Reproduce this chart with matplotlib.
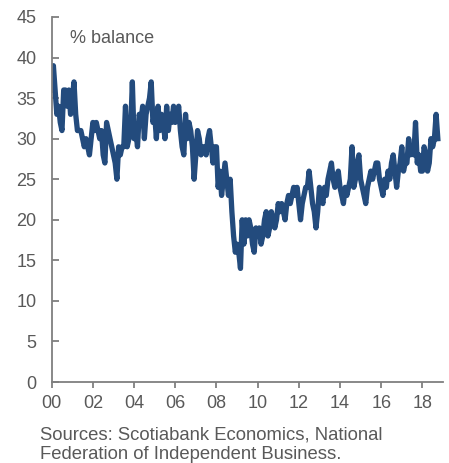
import matplotlib.pyplot as plt
import numpy as np

plt.rcParams['font.family'] = ['Liberation Sans', 'DejaVu Sans']

# monthly % balance, Jan 2000 .. Oct 2018
balance = [
    36, 39, 36, 33, 34, 32, 31, 36, 36, 34, 36, 33,   # 2000
    35, 37, 33, 31, 31, 31, 30, 29, 30, 29, 28, 30,   # 2001
    32, 31, 32, 31, 30, 31, 28, 27, 32, 31, 30, 29,   # 2002
    28, 27, 25, 29, 28, 29, 29, 34, 29, 30, 31, 37,   # 2003
    30, 31, 29, 33, 32, 34, 30, 33, 34, 35, 37, 32,   # 2004
    33, 30, 34, 31, 33, 32, 30, 34, 31, 33, 32, 34,   # 2005
    32, 33, 34, 31, 29, 28, 33, 30, 32, 31, 29, 25,   # 2006
    28, 31, 30, 28, 29, 29, 28, 30, 31, 29, 27, 29,   # 2007
    29, 24, 26, 23, 25, 27, 25, 23, 25, 21, 18, 16,   # 2008
    17, 16, 14, 20, 17, 20, 18, 20, 19, 17, 16, 19,   # 2009
    18, 19, 17, 18, 20, 21, 18, 19, 21, 20, 19, 20,   # 2010
    22, 21, 22, 21, 20, 22, 23, 22, 23, 24, 23, 24,   # 2011
    22, 20, 22, 23, 24, 24, 26, 24, 22, 21, 19, 21,   # 2012
    24, 23, 22, 24, 23, 25, 26, 27, 25, 24, 25, 26,   # 2013
    24, 23, 22, 24, 23, 24, 25, 29, 24, 25, 27, 28,   # 2014
    25, 24, 23, 22, 24, 25, 26, 25, 26, 27, 27, 25,   # 2015
    24, 23, 25, 24, 26, 25, 27, 28, 26, 24, 26, 27,   # 2016
    29, 26, 27, 27, 30, 28, 29, 28, 32, 27, 28, 26,   # 2017
    26, 29, 28, 26, 27, 30, 29, 30, 33, 30,           # 2018
]
start_year = 2000
x_ticks = list(range(2000, 2019, 2))
x_labels = ["00", "02", "04", "06", "08", "10", "12", "14", "16", "18"]
y_ticks = list(range(0, 46, 5))

years = start_year + np.arange(len(balance)) / 12.0

fig = plt.figure(figsize=(4.49, 4.63), dpi=100)
ax = fig.add_axes([0.1151, 0.1749, 0.8715, 0.7884])

ax.plot(years, balance, color="#234B7D", linewidth=3.8, solid_joinstyle="round")

grey = "#7F7F7F"
text_grey = "#595959"
ax.set_xlim(2000, 2019)
ax.set_ylim(0, 45)
ax.set_xticks(x_ticks)
ax.set_xticklabels(x_labels)
ax.set_yticks(y_ticks)

for side in ["top", "right"]:
    ax.spines[side].set_visible(False)
for side in ["left", "bottom"]:
    ax.spines[side].set_color(grey)
    ax.spines[side].set_linewidth(1.3)

ax.tick_params(axis="y", direction="in", length=5, width=1.3, color=grey,
               labelsize=13, labelcolor=text_grey, pad=11)
ax.tick_params(axis="x", direction="out", length=4, width=1.3, color=grey,
               labelsize=13, labelcolor=text_grey, pad=5)

ax.text(0.047, 0.942, "% balance", transform=ax.transAxes, fontsize=13,
        color=text_grey, va="center", ha="left")

fig.text(40 / 449, 1 - 427 / 463, "Sources: Scotiabank Economics, National\nFederation of Independent Business.",
         fontsize=13.3, color=text_grey, va="top", ha="left", linespacing=1.12)

fig.savefig("out.png", dpi=100)
